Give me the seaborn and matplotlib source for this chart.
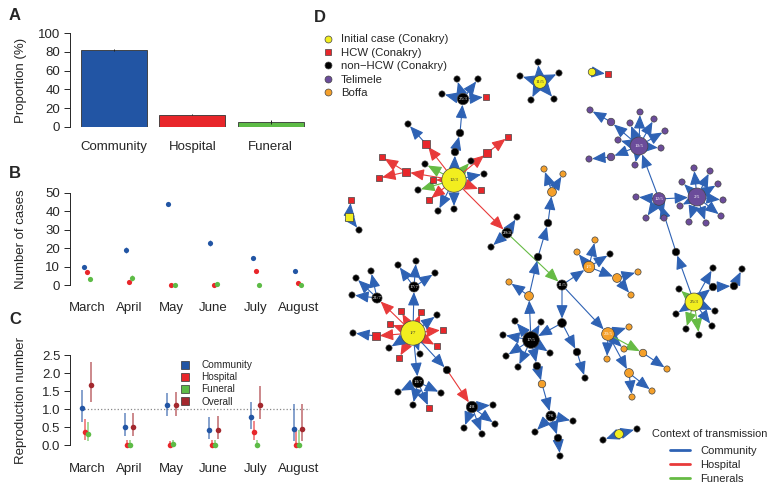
import numpy as np
import pandas as pd
import matplotlib
matplotlib.use("Agg")
import matplotlib.pyplot as plt
import seaborn as sns
from matplotlib.lines import Line2D

# ---------------- data ----------------
categories = ["Community", "Hospital", "Funeral"]
proportion = [82, 13, 5]
proportion_err = [1.5, 0.5, 2.0]

months = ["March", "April", "May", "June", "July", "August"]
cases_community = [9.6, 19, 43.8, 22.8, 14.7, 7.8]
cases_hospital = [6.9, 1.8, 0, 0, 7.8, 1.1]
cases_funeral = [3.1, 3.8, 0, 0.7, 0, 0]
cases_community_err = [0.5, 1.5, 0.5, 1.5, 0.5, 0.3]
cases_hospital_err = [0.3, 0.3, 0, 0, 0.3, 0.2]
cases_funeral_err = [0.3, 1.5, 0, 1.0, 0, 0]

r_community = [1.02, 0.50, 1.10, 0.42, 0.77, 0.45]
r_community_lo = [0.63, 0.25, 0.80, 0.18, 0.45, 0.10]
r_community_hi = [1.53, 0.90, 1.45, 0.79, 1.20, 1.15]
r_hospital = [0.37, 0.0, 0.0, 0.0, 0.36, 0.0]
r_hospital_lo = [0.15, 0.0, 0.0, 0.0, 0.15, 0.0]
r_hospital_hi = [0.72, 0.15, 0.10, 0.15, 0.68, 0.43]
r_funeral = [0.30, 0.0, 0.02, 0.0, 0.0, 0.0]
r_funeral_lo = [0.10, 0.0, 0.0, 0.0, 0.0, 0.0]
r_funeral_hi = [0.63, 0.15, 0.15, 0.15, 0.15, 0.43]
r_overall = [1.68, 0.50, 1.10, 0.42, 1.12, 0.45]
r_overall_lo = [1.20, 0.25, 0.80, 0.18, 0.72, 0.10]
r_overall_hi = [2.30, 0.90, 1.47, 0.80, 1.63, 1.15]

# transmission trees: (name, x, y, kind, infector, context, label)
tree_12_3 = [
    ("h12_3", 454, 180, "I", None, "", "12/3"),
    ("a1", 471, 161, "N", "h12_3", "F", ""), ("a2", 484, 174, "N", "h12_3", "C", ""),
    ("a3", 425, 164, "N", "h12_3", "F", ""), ("a4", 418, 190, "N", "h12_3", "F", ""),
    ("a5", 438, 211, "N", "h12_3", "C", ""), ("a6", 454, 209, "N", "h12_3", "C", ""),
    ("r1", 481, 190, "H", "h12_3", "H", ""), ("r2", 433, 180, "H", "h12_3", "H", ""),
    ("r3", 429, 200, "H", "h12_3", "H", ""), ("r4", 426, 144, "H", "h12_3", "H", ""),
    ("a8", 408, 124, "N", "r4", "C", ""),
    ("r5", 487, 153, "H", "h12_3", "H", ""), ("r6", 508, 137, "H", "r5", "H", ""),
    ("r7", 406, 172, "H", "h12_3", "H", ""), ("r8", 382, 157, "H", "r7", "H", ""),
    ("r9", 379, 178, "H", "r7", "H", ""),
    ("c1", 455, 152, "N", "h12_3", "C", ""), ("c2", 460, 133, "N", "c1", "C", ""),
    ("h25k", 463, 99, "N", "c2", "C", "25/3"),
    ("b1", 457, 79, "N", "h25k", "C", ""), ("b2", 478, 79, "N", "h25k", "C", ""),
    ("b3", 442, 94, "N", "h25k", "C", ""), ("b4", 486, 97, "H", "h25k", "C", ""),
    ("h29", 507, 233, "N", "h12_3", "H", "29/4"),
    ("d1", 517, 217, "N", "h29", "C", ""), ("d2", 491, 247, "N", "h29", "C", ""),
]
tree_boffa = [
    ("h11m", 562, 285, "N", "h29", "F", "11/5"),
    ("m1", 562, 323, "N", "h11m", "C", ""),
    ("h17_5", 531, 340, "N", "m1", "C", "17/5"),
    ("m2", 577, 352, "N", "m1", "C", ""), ("m3", 585, 378, "N", "m2", "C", ""),
    ("e1", 515, 321, "N", "h17_5", "C", ""), ("e2", 541, 322, "N", "h17_5", "C", ""),
    ("e3", 503, 335, "N", "h17_5", "C", ""), ("e4", 506, 356, "N", "h17_5", "C", ""),
    ("e5", 518, 367, "N", "h17_5", "C", ""), ("e6", 550, 353, "N", "h17_5", "C", ""),
    ("k1", 537, 366, "N", "h17_5", "C", ""), ("k2", 542, 384, "B", "k1", "C", ""),
    ("h7_6", 551, 416, "N", "k2", "C", "7/6"),
    ("g1", 535, 432, "N", "h7_6", "C", ""), ("g2", 573, 421, "N", "h7_6", "C", ""),
    ("g3", 558, 438, "N", "h7_6", "C", ""), ("g4", 560, 456, "N", "g3", "C", ""),
    ("p1", 529, 296, "B", "h17_5", "C", ""), ("p1b", 509, 282, "B", "p1", "C", ""),
    ("p2", 538, 257, "N", "p1", "C", ""), ("p3", 548, 223, "N", "p2", "C", ""),
    ("p4", 552, 192, "B", "p3", "C", ""), ("p5", 544, 169, "B", "p4", "C", ""),
    ("p6", 563, 174, "B", "p4", "C", ""),
    ("o15", 589, 267, "B", "h11m", "C", "1/5"),
    ("o15a", 577, 252, "B", "o15", "C", ""), ("o15b", 595, 240, "B", "o15", "C", ""),
    ("o15c", 610, 254, "N", "o15", "C", ""), ("o15d", 617, 278, "B", "o15", "C", ""),
    ("o15e", 638, 272, "B", "o15d", "C", ""), ("o15f", 631, 295, "B", "o15d", "C", ""),
    ("o20", 608, 334, "B", "h11m", "C", "20/5"),
    ("o20a", 629, 327, "B", "o20", "C", ""), ("o20b", 624, 349, "B", "o20", "C", ""),
    ("o20c", 607, 359, "B", "o20", "C", ""), ("o20d", 629, 373, "B", "o20", "C", ""),
    ("o20e", 632, 397, "B", "o20d", "C", ""), ("o20f", 652, 391, "B", "o20d", "C", ""),
    ("o20g", 643, 353, "B", "o20", "F", ""), ("o20h", 667, 369, "B", "o20g", "C", ""),
]
tree_1_7 = [
    ("h1_7", 413, 333, "I", None, "", "1/7"),
    ("h21_7", 377, 298, "N", "h1_7", "H", "21/7"),
    ("f1", 356, 278, "N", "h21_7", "C", ""), ("f2", 371, 271, "N", "h21_7", "C", ""),
    ("f3", 352, 295, "N", "h21_7", "C", ""),
    ("h17_7", 414, 287, "N", "h1_7", "C", "17/7"),
    ("f4", 398, 265, "N", "h17_7", "C", ""), ("f5", 416, 261, "N", "h17_7", "C", ""),
    ("f6", 435, 273, "N", "h17_7", "C", ""),
    ("s1", 401, 311, "H", "h1_7", "H", ""), ("s2", 421, 312, "H", "h1_7", "H", ""),
    ("s3", 390, 324, "H", "h1_7", "H", ""), ("s4", 443, 330, "H", "h1_7", "H", ""),
    ("s5", 437, 346, "H", "h1_7", "H", ""), ("s6", 399, 358, "H", "h1_7", "H", ""),
    ("s7", 376, 336, "H", "h1_7", "H", ""), ("s8", 353, 333, "N", "s7", "C", ""),
    ("u1", 389, 348, "N", "h1_7", "C", ""), ("u2", 420, 354, "N", "h1_7", "C", ""),
    ("u3", 437, 315, "N", "h1_7", "C", ""),
    ("h13_7", 418, 382, "N", "h1_7", "C", "13/7"),
    ("v1", 398, 392, "N", "h13_7", "C", ""), ("v2", 413, 405, "N", "h13_7", "C", ""),
    ("v3", 441, 393, "N", "h13_7", "C", ""), ("v4", 429, 408, "H", "h13_7", "C", ""),
    ("q1", 447, 370, "N", "h1_7", "C", ""),
    ("h4_8", 472, 407, "N", "q1", "H", "4/8"),
    ("w1", 493, 405, "N", "h4_8", "C", ""), ("w2", 464, 428, "N", "h4_8", "C", ""),
    ("w3", 482, 434, "N", "h4_8", "C", ""), ("w4", 495, 424, "N", "h4_8", "C", ""),
]
tree_25_3 = [
    ("h25y", 694, 302, "I", None, "", "25/3"),
    ("j1", 676, 252, "N", "h25y", "C", ""), ("j2", 713, 268, "N", "h25y", "C", ""),
    ("j3", 713, 287, "N", "h25y", "C", ""), ("j4", 734, 286, "N", "j3", "C", ""),
    ("j5", 742, 269, "N", "j4", "C", ""),
    ("j6", 679, 289, "N", "h25y", "F", ""), ("j7", 676, 314, "N", "h25y", "C", ""),
    ("j8", 686, 329, "N", "h25y", "F", ""), ("j9", 699, 335, "N", "h25y", "F", ""),
    ("j10", 712, 326, "N", "h25y", "C", ""), ("j11", 715, 311, "N", "h25y", "C", ""),
    ("h12_5", 659, 199, "T", "j1", "C", "12/5"),
    ("t12", 636, 197, "T", "h12_5", "C", ""), ("t13", 646, 218, "T", "h12_5", "C", ""),
    ("t14", 664, 218, "T", "h12_5", "C", ""),
    ("h10_5", 639, 146, "T", "h12_5", "C", "10/5"),
    ("t1", 630, 123, "T", "h10_5", "C", ""), ("t2", 640, 112, "T", "h10_5", "C", ""),
    ("t3", 654, 119, "T", "h10_5", "C", ""), ("t4", 665, 131, "T", "h10_5", "C", ""),
    ("t5", 661, 148, "T", "h10_5", "C", ""), ("t6", 635, 165, "T", "h10_5", "C", ""),
    ("t7", 618, 140, "T", "h10_5", "C", ""), ("t8", 611, 122, "T", "h10_5", "C", ""),
    ("t9", 590, 110, "T", "t8", "C", ""), ("t10", 611, 157, "T", "h10_5", "C", ""),
    ("t11", 589, 159, "T", "t10", "C", ""),
    ("h2_5", 697, 197, "T", "h12_5", "C", "2/5"),
    ("n1", 680, 206, "T", "h2_5", "C", ""), ("n2", 682, 182, "T", "h2_5", "C", ""),
    ("n3", 694, 168, "T", "h2_5", "C", ""), ("n4", 710, 171, "T", "h2_5", "C", ""),
    ("n5", 718, 184, "T", "h2_5", "C", ""), ("n6", 723, 200, "T", "h2_5", "C", ""),
    ("n7", 721, 216, "T", "h2_5", "C", ""), ("n8", 706, 223, "T", "h2_5", "C", ""),
    ("n9", 689, 222, "T", "h2_5", "C", ""),
]
tree_small = [
    ("h11_5", 540, 82, "I", None, "", "11/5"),
    ("i1", 538, 62, "N", "h11_5", "C", ""), ("i2", 559, 73, "N", "h11_5", "C", ""),
    ("i3", 520, 76, "N", "h11_5", "C", ""), ("i4", 531, 100, "N", "h11_5", "C", ""),
    ("i5", 554, 99, "N", "h11_5", "C", ""),
    ("y1", 592, 72, "I", None, "", ""), ("y2", 608, 74, "H", "y1", "C", ""),
    ("z0", 349, 217, "IH", None, "", ""), ("z1", 351, 200, "H", "z0", "C", ""),
    ("z2", 359, 230, "N", "z0", "C", ""),
    ("x0", 619, 434, "I", None, "", ""), ("x1", 603, 440, "N", "x0", "C", ""),
    ("x2", 637, 429, "N", "x0", "C", ""),
]

# ---------------- style ----------------
W, H = 771, 487
sns.set_style("ticks")
plt.rcParams["font.family"] = ["Liberation Sans", "DejaVu Sans"]

BLUE, RED, GREEN, DRED = "#2255A4", "#E8262A", "#5DBB46", "#A3282E"
EDGE = {"C": "#2E62B4", "H": "#E83A3A", "F": "#66BB44"}
FILL = {"I": "#F2EE1F", "IH": "#F2EE1F", "H": "#E8262A", "N": "#000000",
        "T": "#6B4C9A", "B": "#F5A02A"}

fig = plt.figure(figsize=(W / 100, H / 100), dpi=100)


def px_axes(x0, y0, x1, y1):
    return fig.add_axes([x0 / W, 1 - y1 / H, (x1 - x0) / W, (y1 - y0) / H])


def r_axis(ax, lo, hi, pad):
    sns.despine(ax=ax, bottom=True)
    ax.spines["left"].set_linewidth(0.7)
    ax.spines["left"].set_bounds(lo, hi)
    ax.tick_params(axis="y", length=4, width=0.7, pad=3, labelsize=9.5)
    ax.tick_params(axis="x", length=0, pad=pad, labelsize=9.5)
    ax.yaxis.set_label_coords(-0.18, 0.5)


# ---- A ----
ax_a = px_axes(70, 33, 310, 127)
sns.barplot(x=categories, y=proportion, hue=categories, palette=[BLUE, RED, GREEN],
            legend=False, width=0.84, saturation=1, edgecolor="#333333",
            linewidth=0.6, errorbar=None, ax=ax_a)
ax_a.errorbar(np.arange(3), proportion, yerr=proportion_err, fmt="none",
              ecolor="#222222", elinewidth=0.7)
ax_a.set_xlim(-0.56, 2.5)
ax_a.set_ylim(0, 100)
ax_a.set_yticks(range(0, 101, 20))
ax_a.set_ylabel("Proportion (%)", fontsize=9.5)
r_axis(ax_a, 0, 100, 10)

# ---- B ----
xm = np.arange(len(months))
ax_b = px_axes(70, 193, 310, 285)
for vals, errs, col, off in [(cases_community, cases_community_err, BLUE, -0.075),
                             (cases_hospital, cases_hospital_err, RED, 0.0),
                             (cases_funeral, cases_funeral_err, GREEN, 0.075)]:
    ax_b.errorbar(xm + off, vals, yerr=errs, fmt="none", ecolor=col,
                  elinewidth=0.9, alpha=0.6, clip_on=False)
    sns.scatterplot(x=xm + off, y=vals, color=col, s=14, linewidth=0,
                    ax=ax_b, clip_on=False, zorder=3)
ax_b.set_xlim(-0.40, 5.28)
ax_b.set_ylim(0, 50)
ax_b.set_yticks(range(0, 51, 10))
ax_b.set_xticks(xm)
ax_b.set_xticklabels(months)
ax_b.set_ylabel("Number of cases", fontsize=9.5)
r_axis(ax_b, 0, 50, 12)

# ---- C ----
ax_c = px_axes(70, 355, 310, 445)
ax_c.axhline(1.0, xmin=0.06, xmax=1.0, color="#888888", ls=":", lw=0.9)
series_c = [("Community", r_community, r_community_lo, r_community_hi, BLUE, -0.11),
            ("Hospital", r_hospital, r_hospital_lo, r_hospital_hi, RED, -0.04),
            ("Funeral", r_funeral, r_funeral_lo, r_funeral_hi, GREEN, 0.03),
            ("Overall", r_overall, r_overall_lo, r_overall_hi, DRED, 0.10)]
for name, vals, lo, hi, col, off in series_c:
    ax_c.vlines(xm + off, lo, hi, color=col, lw=1.4, alpha=0.55, clip_on=False)
    sns.scatterplot(x=xm + off, y=vals, color=col, s=16, linewidth=0,
                    ax=ax_c, clip_on=False, zorder=3)
ax_c.set_xlim(-0.40, 5.28)
ax_c.set_ylim(0, 2.5)
ax_c.set_yticks(np.arange(0, 2.51, 0.5))
ax_c.set_yticklabels([f"{v:.1f}" for v in np.arange(0, 2.51, 0.5)])
ax_c.set_xticks(xm)
ax_c.set_xticklabels(months)
ax_c.set_ylabel("Reproduction number", fontsize=9.5)
r_axis(ax_c, 0, 2.5, 13)
handles_c = [Line2D([], [], ls="", marker="s", markersize=5.5, markerfacecolor=s[4],
                    markeredgecolor="#333333", markeredgewidth=0.5) for s in series_c]
fig.legend(handles_c, [s[0] for s in series_c], loc="upper left",
           bbox_to_anchor=(181 / W, 1 - 360 / H), frameon=False, fontsize=7.2,
           handlelength=0.8, handletextpad=1.25, labelspacing=0.22,
           borderpad=0, borderaxespad=0)

# ---- D ----
ax_d = fig.add_axes([320 / W, 0, (W - 320) / W, 1])
ax_d.set_xlim(320, W)
ax_d.set_ylim(H, 0)
ax_d.axis("off")

nodes = pd.DataFrame(tree_12_3 + tree_boffa + tree_1_7 + tree_25_3 + tree_small,
                     columns=["name", "x", "y", "kind", "parent", "ctx", "label"])
deg = nodes["parent"].value_counts()
nodes["r"] = 3.1 + 0.65 * nodes["name"].map(deg).fillna(0)
nodes = nodes.set_index("name")

for name, row in nodes.iterrows():
    if row["parent"] is None:
        continue
    par = nodes.loc[row["parent"]]
    ax_d.annotate("", xy=(row["x"], row["y"]), xytext=(par["x"], par["y"]),
                  arrowprops=dict(arrowstyle="-|>,head_length=0.75,head_width=0.32",
                                  color=EDGE[row["ctx"]], lw=0.8,
                                  shrinkA=par["r"] * 0.72, shrinkB=row["r"] * 0.72,
                                  mutation_scale=11), zorder=1)

for kind, grp in nodes.groupby("kind"):
    square = kind in ("H", "IH")
    size = (grp["r"] * 0.72 * (1.9 if square else 2.0)) ** 2
    ax_d.scatter(grp["x"], grp["y"], s=size, marker="s" if square else "o",
                 color=FILL[kind], edgecolors="#444444", linewidths=0.5, zorder=3)

for name, row in nodes[nodes["label"] != ""].iterrows():
    ax_d.text(row["x"], row["y"], row["label"], ha="center", va="center",
              fontsize=3.6, family=["Liberation Serif", "DejaVu Serif"], zorder=4,
              color="#333333" if row["kind"] == "I" else "white")

kind_handles = [("Initial case (Conakry)", "o", FILL["I"]), ("HCW (Conakry)", "s", FILL["H"]),
                ("non\u2212HCW (Conakry)", "o", FILL["N"]), ("Telimele", "o", FILL["T"]),
                ("Boffa", "o", FILL["B"])]
leg1 = ax_d.legend([Line2D([], [], ls="", marker=m, markersize=5, markerfacecolor=c,
                           markeredgecolor="#444444", markeredgewidth=0.5)
                    for _, m, c in kind_handles],
                   [k[0] for k in kind_handles], loc="upper left",
                   bbox_to_anchor=(323.5, 34.5), bbox_transform=ax_d.transData,
                   frameon=False, fontsize=8.2, handlelength=0.8, handletextpad=0.75,
                   labelspacing=0.3, borderpad=0, borderaxespad=0)
ax_d.add_artist(leg1)

ax_d.text(652, 434, "Context of transmission", fontsize=7.9, va="center", ha="left")
ctx_names = ["Community", "Hospital", "Funerals"]
ax_d.legend([Line2D([], [], color=EDGE[c], lw=2) for c in "CHF"], ctx_names,
            loc="upper left", bbox_to_anchor=(670, 446), bbox_transform=ax_d.transData,
            frameon=False, fontsize=8.0, handlelength=1.8, handletextpad=0.9,
            labelspacing=0.36, borderpad=0, borderaxespad=0)

for letter, x, y in [("A", 15, 15), ("B", 15, 173), ("C", 15, 320), ("D", 320, 17)]:
    fig.text(x / W, 1 - y / H, letter, fontsize=12, fontweight="bold",
             ha="center", va="center")

fig.savefig("out.png", dpi=100)
